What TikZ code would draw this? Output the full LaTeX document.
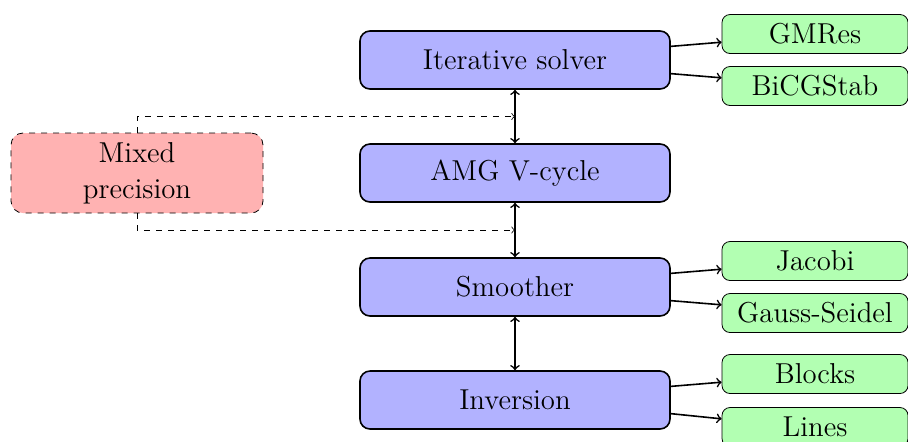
\documentclass[tikz,border=0pt]{standalone}
\usetikzlibrary{calc}
\begin{document}
\begin{tikzpicture}[x=0.5pt,y=-0.5pt,
  mainbox/.style={draw, thick, rounded corners=5pt, fill=blue!30, minimum width=155pt, minimum height=29pt, font=\Large, inner sep=0pt},
  optbox/.style={draw, rounded corners=4pt, fill=green!30, minimum width=93pt, minimum height=19.5pt, font=\Large, inner sep=0pt},
  mixbox/.style={draw, dashed, rounded corners=6pt, fill=red!30, minimum width=126pt, minimum height=40pt, font=\Large, align=center, inner sep=0pt},
  link/.style={thick, ->},
  dlink/.style={thick, <->},
  dashlink/.style={dashed, ->}]
\useasboundingbox (0,0) rectangle (908,441);
\node[mainbox] (is) at (515,60) {Iterative solver};
\node[mainbox] (amg) at (515,173) {AMG V-cycle};
\node[mainbox] (sm) at (515,287) {Smoother};
\node[mainbox] (inv) at (515,400) {Inversion};
\node[optbox] (gm) at (815,34) {GMRes};
\node[optbox] (bi) at (815,86) {BiCGStab};
\node[optbox] (ja) at (815,261) {Jacobi};
\node[optbox] (gs) at (815,313) {Gauss-Seidel};
\node[optbox] (bl) at (815,374) {Blocks};
\node[optbox] (li) at (815,427) {Lines};
\node[mixbox] (mp) at (137,173) {Mixed\\precision};
\draw[dlink] (is) -- (amg);
\draw[dlink] (amg) -- (sm);
\draw[dlink] (sm) -- (inv);
\draw[link] (is.5) -- (gm.185);
\draw[link] (is.-5) -- (bi.175);
\draw[link] (sm.5) -- (ja.185);
\draw[link] (sm.-5) -- (gs.175);
\draw[link] (inv.5) -- (bl.185);
\draw[link] (inv.-5) -- (li.175);
\coordinate (c1) at ($(is.south)!0.5!(amg.north)$);
\coordinate (c2) at ($(amg.south)!0.5!(sm.north)$);
\draw[dashlink] (mp.north) |- (c1);
\draw[dashlink] (mp.south) |- (c2);
\end{tikzpicture}
\end{document}
